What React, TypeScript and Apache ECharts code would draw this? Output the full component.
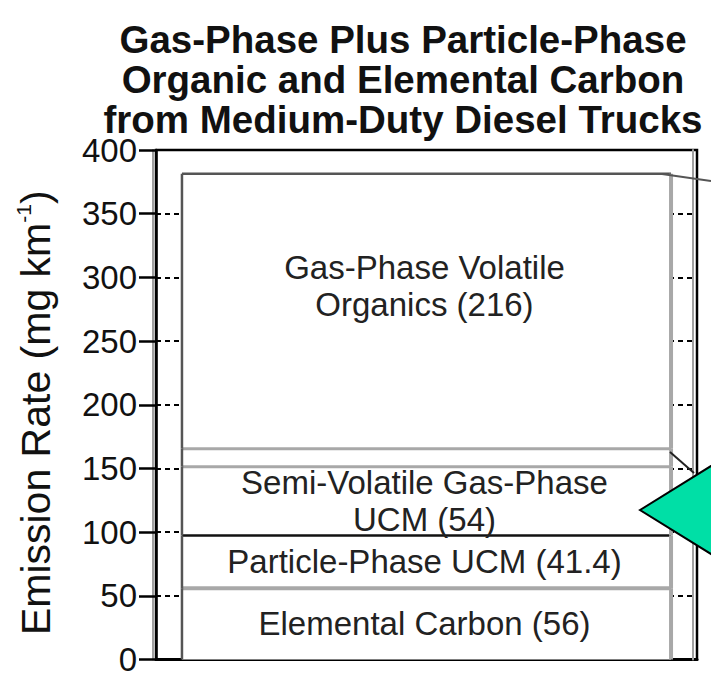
import React, { useEffect, useRef } from 'react';
import * as echarts from 'echarts';

// ---------- data ----------
const categories = ['Medium-Duty Diesel Trucks'];
const segmentNames = [
  'Elemental Carbon',
  'Particle-Phase UCM',
  'Semi-Volatile Gas-Phase UCM',
  'Unlabeled layer',
  'Gas-Phase Volatile Organics',
];
const segmentValues = [56, 41.4, 54, 14, 216];
const segmentLabels = [
  'Elemental Carbon (56)',
  'Particle-Phase UCM (41.4)',
  'Semi-Volatile Gas-Phase\nUCM (54)',
  '',
  'Gas-Phase Volatile\nOrganics (216)',
];
const yMin = 0;
const yMax = 400;
const yInterval = 50;
const titleLines = [
  'Gas-Phase Plus Particle-Phase',
  'Organic and Elemental Carbon',
  'from Medium-Duty Diesel Trucks',
];
const yAxisName = 'Emission Rate (mg km{sup|-1})';

// ---------- styles ----------
const FONT = '"Liberation Sans", Arial, Helvetica, sans-serif';
const boundaryColors = ['#a8a8a8', '#111111', '#a8a8a8', '#a8a8a8', '#555555'];
const boundaryWidths = [4, 2.5, 3, 3, 2.5];
const labelFractions = [0.5, 0.5, 0.5, 0.5, 0.41];
const barRatio = 0.904;

export default function App() {
  const ref = useRef<HTMLDivElement>(null);

  useEffect(() => {
    if (!ref.current) return;
    document.body.style.margin = '0';
    document.body.style.overflow = 'hidden';
    document.documentElement.style.overflow = 'hidden';
    const chart = echarts.init(ref.current, null, { renderer: 'svg', width: 711, height: 676 });

    let acc = 0;
    const segData = segmentValues.map((v, i) => {
      const start = acc;
      acc += v;
      return { name: segmentNames[i], value: [0, start, acc, i] };
    });

    const option: any = {
      animation: false,
      backgroundColor: '#ffffff',
      title: {
        text: titleLines.join('\n'),
        left: 403,
        top: 19,
        padding: 0,
        textAlign: 'center',
        textStyle: {
          fontFamily: FONT,
          fontSize: 38.5,
          fontWeight: 'bold',
          lineHeight: 40,
          color: '#111',
        },
      },
      grid: {
        left: 156,
        right: 14,
        top: 150,
        bottom: 5,
        show: true,
        borderColor: '#000',
        borderWidth: 2.5,
        backgroundColor: 'transparent',
      },
      xAxis: {
        type: 'category',
        data: categories,
        boundaryGap: true,
        axisLabel: { show: false },
        axisTick: { show: false },
        axisLine: { show: true, lineStyle: { color: '#000', width: 3 } },
        splitLine: { show: false },
      },
      yAxis: [
        {
          type: 'value',
          position: 'left',
          min: yMin,
          max: yMax,
          interval: yInterval,
          name: yAxisName,
          nameLocation: 'middle',
          nameGap: 97,
          nameTextStyle: {
            fontFamily: FONT,
            fontSize: 41,
            color: '#111',
            padding: [0, 16, 0, 0],
            rich: {
              sup: { fontFamily: FONT, fontSize: 21, color: '#111', verticalAlign: 'top', lineHeight: 46 },
            },
          },
          axisLine: { show: true, lineStyle: { color: '#000', width: 2.5 } },
          axisTick: { show: true, length: 17, lineStyle: { color: '#000', width: 2.5 } },
          axisLabel: { fontFamily: FONT, fontSize: 33, lineHeight: 16, color: '#111', margin: 19 },
          splitLine: { show: true, lineStyle: { color: '#000', width: 2, type: [5, 4] } },
          z: 3,
        },
        {
          type: 'value',
          position: 'left',
          offset: 3,
          min: yMin,
          max: yMax,
          interval: yInterval,
          axisLine: { show: true, lineStyle: { color: '#a0a0a0', width: 2 } },
          axisTick: { show: false },
          axisLabel: { show: false },
          splitLine: { show: false },
          z: 2,
        },
        {
          type: 'value',
          position: 'right',
          offset: -4,
          min: yMin,
          max: yMax,
          interval: yInterval,
          axisLine: { show: true, lineStyle: { color: '#a0a0a0', width: 2 } },
          axisTick: { show: false },
          axisLabel: { show: false },
          splitLine: { show: false },
          z: 2,
        },
      ],
      series: [
        {
          type: 'custom',
          name: 'Emission components',
          encode: { x: 0, y: [1, 2] },
          data: segData,
          z: 5,
          renderItem: (params: any, api: any) => {
            const i = api.value(3);
            const p0 = api.coord([api.value(0), api.value(1)]);
            const p1 = api.coord([api.value(0), api.value(2)]);
            const bw = api.size([1, 0])[0] * barRatio;
            const xL = p0[0] - bw / 2;
            const xR = p0[0] + bw / 2;
            const h = p0[1] - p1[1];
            const children: any[] = [
              { type: 'rect', z2: 0, shape: { x: xL, y: p1[1], width: bw, height: h }, style: { fill: '#fff' } },
              {
                type: 'line', z2: 10,
                shape: { x1: xL, y1: p1[1], x2: xR, y2: p1[1] },
                style: { stroke: boundaryColors[i], lineWidth: boundaryWidths[i] },
              },
              {
                type: 'line', z2: 12,
                shape: { x1: xL, y1: p1[1], x2: xL, y2: p0[1] },
                style: { stroke: '#555', lineWidth: 2.5 },
              },
              {
                type: 'line', z2: 12,
                shape: { x1: xR, y1: p1[1], x2: xR, y2: p0[1] },
                style: { stroke: '#a8a8a8', lineWidth: 4 },
              },
            ];
            if (segmentLabels[i]) {
              children.push({
                type: 'text', z2: 20,
                style: {
                  text: segmentLabels[i],
                  x: p0[0] - 2,
                  y: p1[1] + h * labelFractions[i],
                  align: 'center',
                  verticalAlign: 'middle',
                  fontFamily: FONT,
                  fontSize: 33,
                  lineHeight: 37,
                  fill: '#222',
                },
              });
            }
            return { type: 'group', children };
          },
        },
      ],
      graphic: [
        {
          type: 'line', z: 50,
          shape: { x1: 662, y1: 174, x2: 711, y2: 181 },
          style: { stroke: '#555', lineWidth: 2 },
        },
        {
          type: 'line', z: 50,
          shape: { x1: 670, y1: 452, x2: 694, y2: 473 },
          style: { stroke: '#222', lineWidth: 2 },
        },
        {
          type: 'polygon', z: 60,
          shape: { points: [[640, 510], [719, 461], [719, 559]] },
          style: { fill: '#00DFA6', stroke: '#000', lineWidth: 2 },
        },
      ],
    };

    chart.setOption(option);
    return () => chart.dispose();
  }, []);

  return (
    <div
      ref={ref}
      style={{ position: 'fixed', left: 0, top: 0, width: 711, height: 676, background: '#fff' }}
    />
  );
}
